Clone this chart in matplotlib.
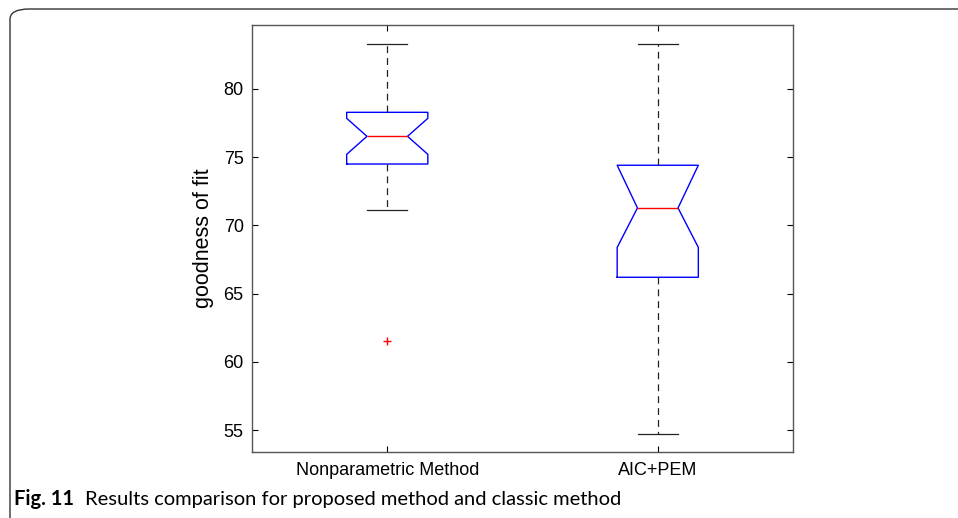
import matplotlib.pyplot as plt
from matplotlib.patches import FancyBboxPatch

methods = ['Nonparametric Method', 'AIC+PEM']
q1 = [74.5, 66.2]
med = [76.53, 71.28]
q3 = [78.29, 74.41]
whis_lo = [71.11, 54.7]
whis_hi = [83.28, 83.28]
ci_lo = [75.21, 68.39]
ci_hi = [77.85, 74.41]
outliers = [[61.52], []]

plt.rcParams['font.family'] = ['Liberation Sans', 'DejaVu Sans']

fig = plt.figure(figsize=(9.58, 5.18), dpi=100)
ax = fig.add_axes([252 / 958, 1 - 452.3 / 518, (793 - 252) / 958, (452.3 - 25) / 518])

stats = []
for i in range(len(methods)):
    stats.append({'med': med[i], 'q1': q1[i], 'q3': q3[i],
                  'whislo': whis_lo[i], 'whishi': whis_hi[i],
                  'cilo': ci_lo[i], 'cihi': ci_hi[i],
                  'fliers': outliers[i], 'label': methods[i]})

ax.bxp(stats, positions=[1, 2], widths=0.3, capwidths=0.148, shownotches=True,
       boxprops=dict(color='blue', lw=1.0),
       medianprops=dict(color='red', lw=1.0),
       whiskerprops=dict(color='#222222', lw=0.9, linestyle=(0, (5.5, 4))),
       capprops=dict(color='#222222', lw=0.9),
       flierprops=dict(marker='+', markeredgecolor='red', markersize=6, linestyle='none'))

ax.set_xlim(0.5, 2.5)
ax.set_ylim(53.37, 84.69)
ax.set_yticks([55, 60, 65, 70, 75, 80])
ax.set_xticks([1, 2])
ax.set_xticklabels(methods)
ax.tick_params(direction='in', length=4, width=0.8, top=True, right=True,
               labelsize=13, pad=6)
ax.tick_params(axis='x', pad=7)
for s in ax.spines.values():
    s.set_color('#555555')
    s.set_linewidth(1.0)
ax.set_ylabel('goodness of fit', fontsize=15.5, labelpad=7)

# caption box frame
frame = FancyBboxPatch((10 / 958, 1 - 530 / 518), 1.2, 521 / 518,
                       boxstyle='round,pad=0,rounding_size=0.02',
                       transform=fig.transFigure, fill=False,
                       edgecolor='#333333', lw=1.0, clip_on=False)
fig.patches.append(frame)

fig.text(14 / 958, 1 - 505 / 518, 'Fig. 11', fontsize=14.5, fontweight='bold',
         family=['Lato', 'DejaVu Sans'], va='baseline')
fig.text(85 / 958, 1 - 505 / 518, 'Results comparison for proposed method and classic method',
         fontsize=14.5, family=['Lato', 'DejaVu Sans'], va='baseline')

fig.savefig('out.png', dpi=100)
